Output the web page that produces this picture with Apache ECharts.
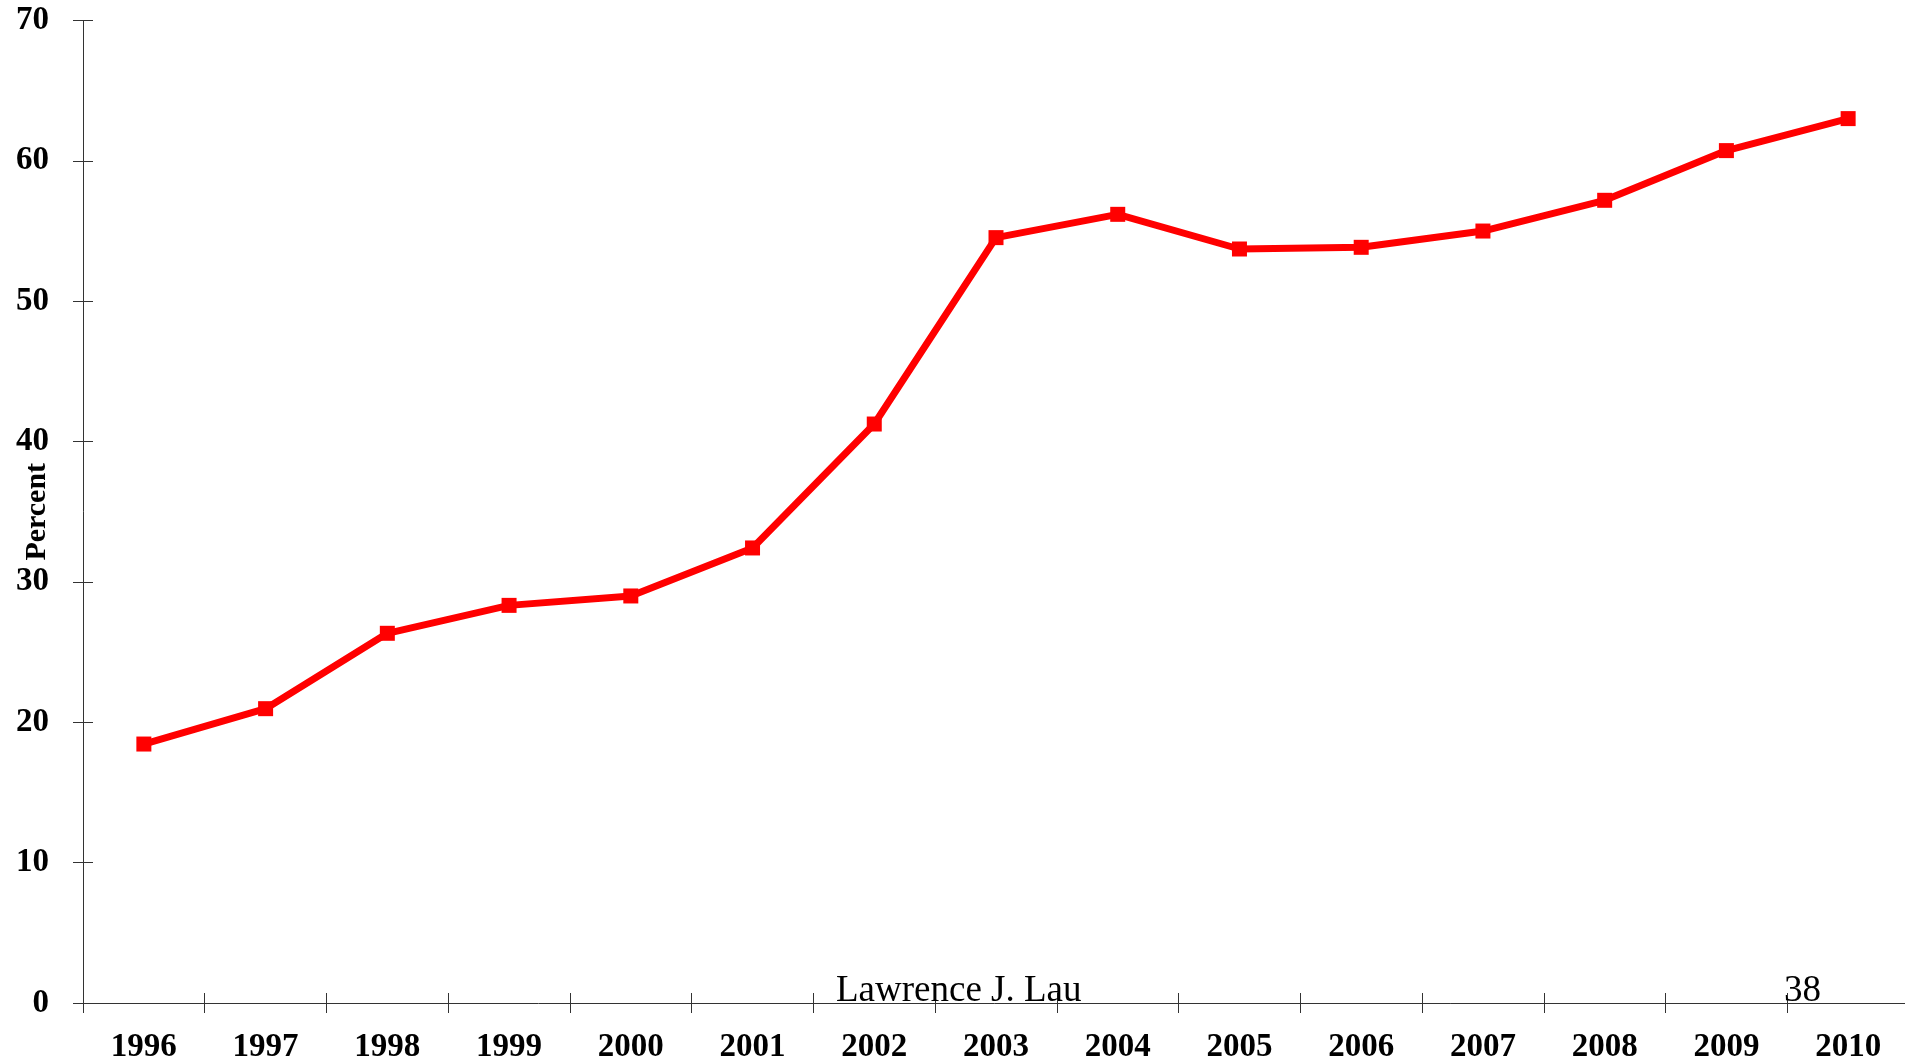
<!DOCTYPE html>
<html>
<head>
<meta charset="utf-8">
<script src="https://cdn.jsdelivr.net/npm/echarts@6/dist/echarts.min.js"></script>
<style>
html,body{margin:0;padding:0;background:#fff;}
#chart{width:1905px;height:1061px;}
</style>
</head>
<body>
<div id="chart"></div>
<script>
const years = ['1996','1997','1998','1999','2000','2001','2002','2003','2004','2005','2006','2007','2008','2009','2010'];
const percentValues = [18.45, 20.97, 26.34, 28.33, 29.0, 32.42, 41.25, 54.53, 56.19, 53.72, 53.84, 55.0, 57.19, 60.73, 63.01];
const yTicks = [0, 10, 20, 30, 40, 50, 60, 70];
const yAxisName = 'Percent';
const footerAuthor = 'Lawrence J. Lau';
const footerPage = '38';

const FONT = '"Liberation Serif", "Times New Roman", serif';
const chart = echarts.init(document.getElementById('chart'));
const axisColor = '#333';

chart.setOption({
  animation: false,
  backgroundColor: '#fff',
  grid: { left: 83, width: 1826, top: 20.5, bottom: 58, containLabel: false, outerBoundsMode: 'none' },
  xAxis: [
    {
      type: 'category', data: years, boundaryGap: true,
      axisLine: { show: true, lineStyle: { color: axisColor, width: 1 } },
      axisTick: { show: true, inside: false, length: 10, lineStyle: { color: axisColor } },
      axisLabel: { color: '#000', fontFamily: FONT, fontWeight: 'bold', fontSize: 33, margin: 28 },
      splitLine: { show: false }
    },
    {
      type: 'category', data: years, boundaryGap: true, position: 'bottom',
      axisLine: { show: false },
      axisTick: { show: true, inside: true, length: 10, lineStyle: { color: axisColor } },
      axisLabel: { show: false },
      splitLine: { show: false }
    }
  ],
  yAxis: [
    {
      type: 'value', min: yTicks[0], max: yTicks[yTicks.length - 1], interval: 10,
      name: yAxisName, nameLocation: 'middle', nameGap: 31, nameRotate: 90, nameMoveOverlap: false,
      nameTextStyle: { color: '#000', fontFamily: FONT, fontWeight: 'bold', fontSize: 30 },
      axisLine: { show: true, lineStyle: { color: axisColor, width: 1 } },
      axisTick: { show: true, inside: false, length: 10, lineStyle: { color: axisColor } },
      axisLabel: { color: '#000', fontFamily: FONT, fontWeight: 'bold', fontSize: 33, margin: 34 },
      splitLine: { show: false }
    },
    {
      type: 'value', min: yTicks[0], max: yTicks[yTicks.length - 1], interval: 10, position: 'left',
      axisLine: { show: false },
      axisTick: { show: true, inside: true, length: 10, lineStyle: { color: axisColor } },
      axisLabel: { show: false },
      splitLine: { show: false }
    }
  ],
  series: [
    {
      type: 'line', data: percentValues, xAxisIndex: 0, yAxisIndex: 0,
      symbol: 'rect', symbolSize: 15, showSymbol: true,
      lineStyle: { color: '#ff0000', width: 7 },
      itemStyle: { color: '#ff0000' },
      z: 5
    }
  ],
  graphic: [
    { type: 'text', left: 836, top: 973, z: 10,
      style: { text: footerAuthor, fontFamily: FONT, fontSize: 37, fill: '#000' } },
    { type: 'text', left: 1784, top: 973, z: 10,
      style: { text: footerPage, fontFamily: FONT, fontSize: 37, fill: '#000' } }
  ]
});
</script>
</body>
</html>
